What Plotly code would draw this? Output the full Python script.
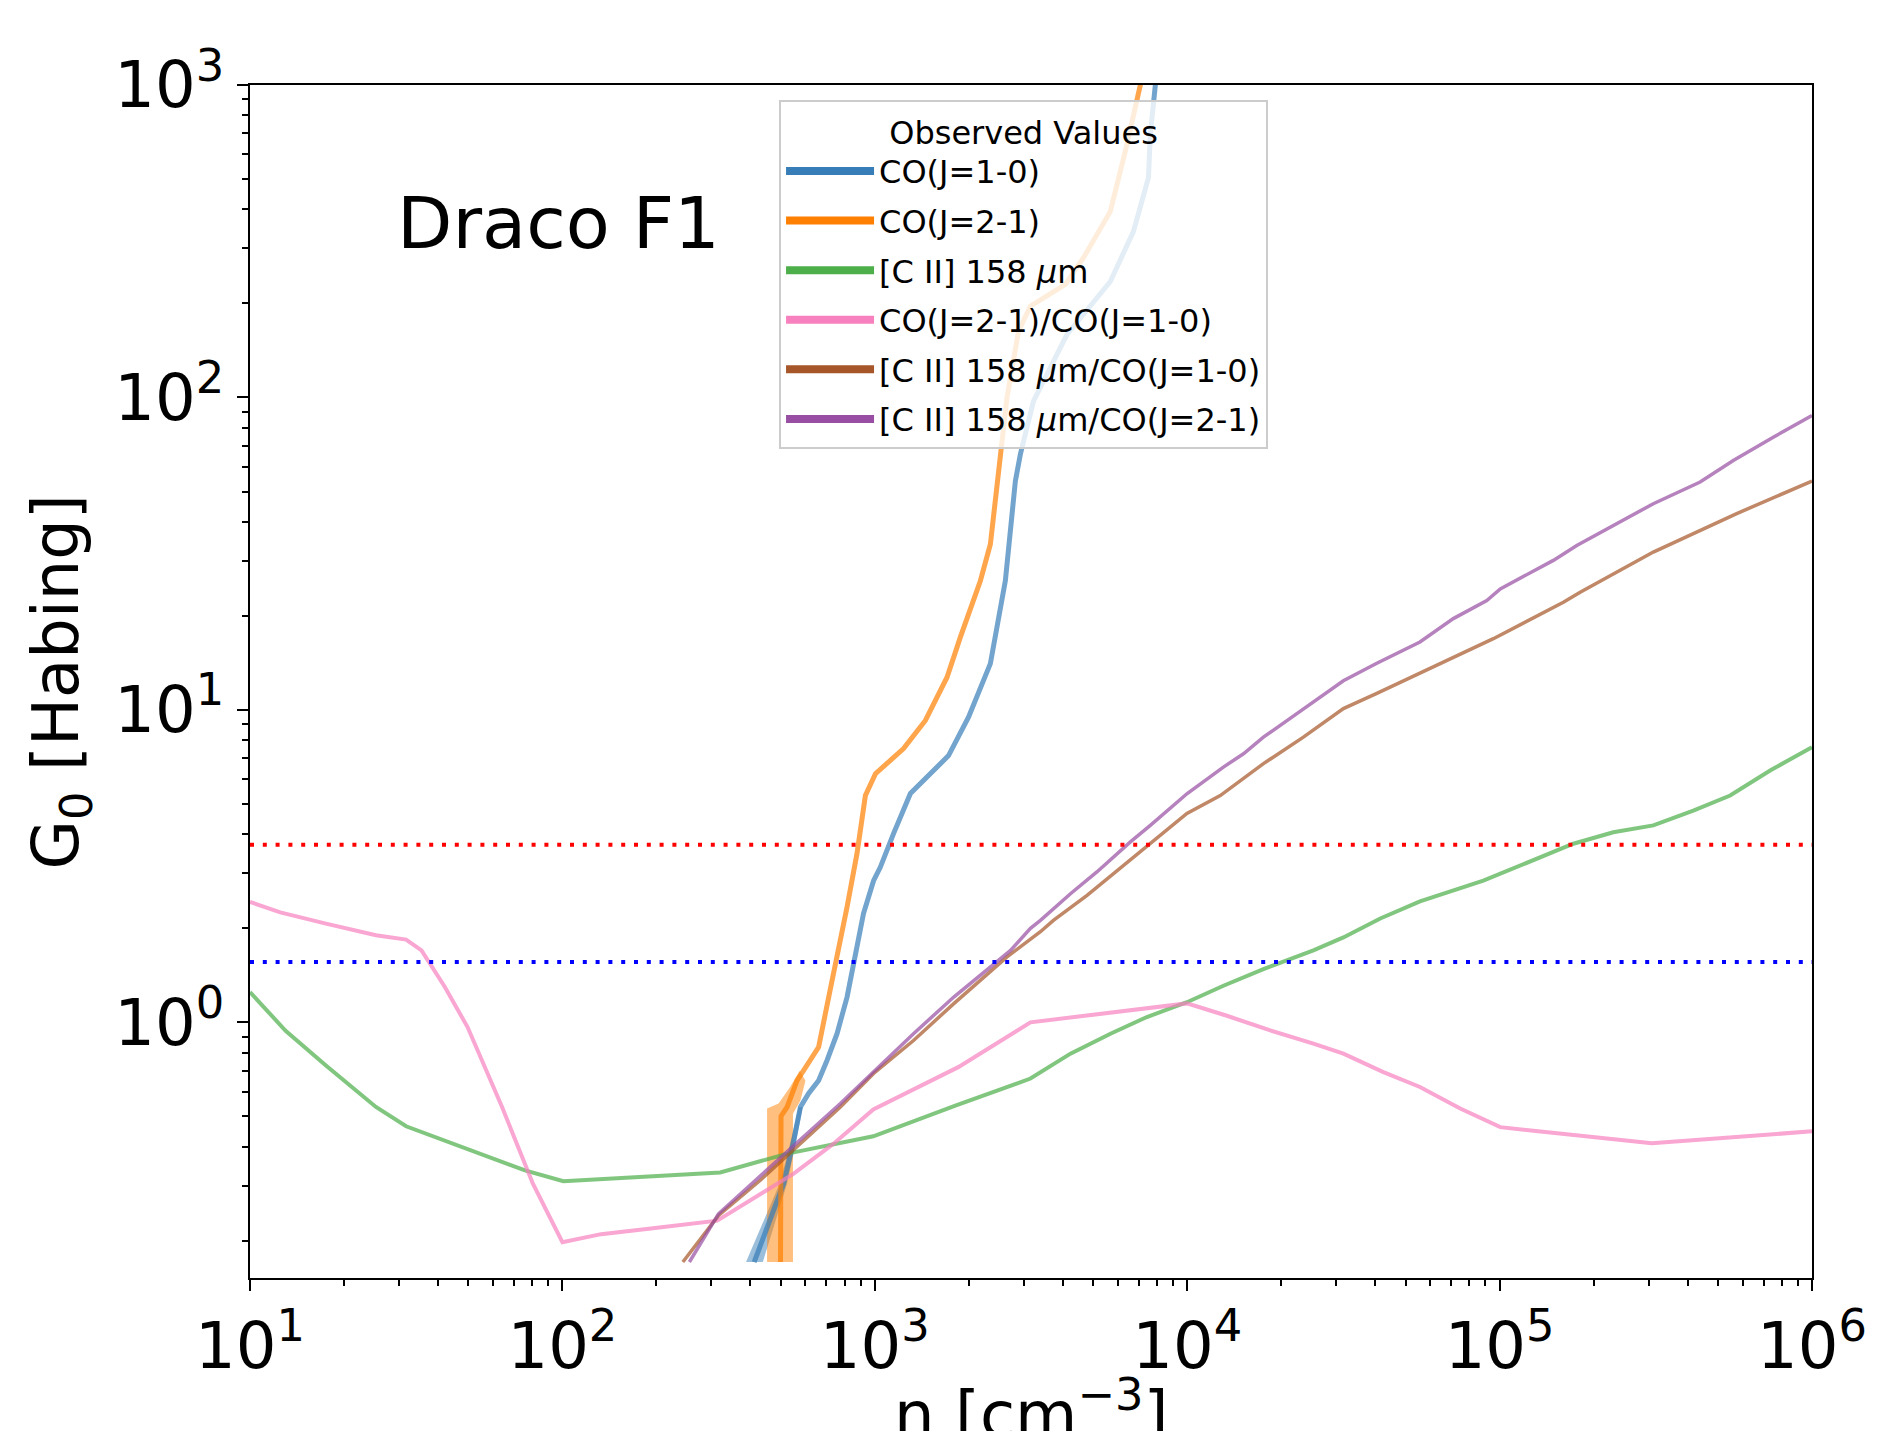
import plotly.graph_objects as go
import math

# ---------------- data ----------------
co10_n = [411, 463, 511, 550, 578, 614, 661, 703, 757, 815, 867, 920, 991, 1042, 1148, 1300,
          1722, 1995, 2344, 2489, 2618, 2818, 2924, 3221, 4121, 5675, 6730, 7516, 7621, 7907, 8128]
co10_g = [0.171, 0.232, 0.305, 0.419, 0.536, 0.592, 0.652, 0.755, 0.920, 1.205, 1.66, 2.23, 2.84,
          3.14, 4.02, 5.40, 7.14, 9.48, 14.06, 19.3, 25.9, 54.0, 65.8, 97.3, 159, 235, 340, 505,
          695, 1000, 1585]
co10_band_n = [387, 441, 496, 539, 570, 588, 561, 524, 481, 438]
co10_band_g = [0.171, 0.232, 0.305, 0.419, 0.536, 0.536, 0.419, 0.305, 0.232, 0.171]

co21_n = [499, 501, 524, 564, 592, 661, 719, 757, 815, 877, 933, 1005, 1148, 1236, 1452, 1702,
          1879, 2178, 2344, 2489, 2649, 2884, 3148, 4074, 4656, 5675, 6339, 7079, 7413]
co21_g = [0.171, 0.501, 0.536, 0.652, 0.702, 0.834, 1.265, 1.62, 2.34, 3.47, 5.32, 6.25, 7.06,
          7.52, 9.25, 12.7, 17.1, 25.9, 33.9, 59.6, 99.8, 163, 196, 230, 280, 394, 614, 1000, 1585]
co21_band_n = [452, 452, 492, 535, 575, 600, 578, 547, 547]
co21_band_g = [0.171, 0.530, 0.550, 0.620, 0.700, 0.650, 0.562, 0.510, 0.171]

cii_n = [10, 13.0, 17.5, 25.3, 31.6, 57.3, 75.9, 100.7, 320, 525, 989, 1820, 3150, 4230, 5680,
         7430, 9980, 13060, 17540, 25350, 31620, 41500, 55600, 88700, 172200, 231200, 310500,
         416900, 547000, 734500, 1000000]
cii_g = [1.25, 0.94, 0.728, 0.536, 0.465, 0.371, 0.336, 0.310, 0.331, 0.380, 0.432, 0.542, 0.661,
         0.794, 0.920, 1.04, 1.16, 1.31, 1.48, 1.70, 1.87, 2.15, 2.44, 2.84, 3.73, 4.06, 4.27,
         4.76, 5.32, 6.40, 7.6]

ratio_n = [10, 12.5, 17.5, 25.3, 31.6, 35.4, 42.0, 49.7, 64.1, 80.4, 100, 133, 192, 313, 550, 738,
           989, 1850, 3150, 5680, 9980, 13400, 18450, 25350, 31620, 42460, 55600, 74800, 100500,
           307000, 1000000]
ratio_g = [2.43, 2.25, 2.07, 1.90, 1.84, 1.70, 1.30, 0.966, 0.536, 0.305, 0.198, 0.210, 0.219,
           0.232, 0.328, 0.409, 0.526, 0.719, 1.00, 1.07, 1.15, 1.05, 0.942, 0.855, 0.794, 0.693,
           0.621, 0.530, 0.462, 0.410, 0.448]

cii_co10_n = [243, 316, 431, 776, 991, 1330, 1790, 2650, 3390, 3730, 4780, 5810, 7430, 9980, 12760,
              17540, 23550, 31620, 40460, 55600, 95500, 160000, 181100, 310500, 438500, 574100,
              1000000]
cii_co10_g = [0.171, 0.241, 0.313, 0.536, 0.686, 0.875, 1.148, 1.62, 1.95, 2.12, 2.55, 2.99, 3.64,
              4.66, 5.32, 6.73, 8.18, 10.1, 11.3, 13.1, 16.9, 22.1, 23.8, 32.0, 37.5, 42.5, 54.0]

cii_co21_n = [255, 316, 776, 1016, 1330, 1790, 2720, 3150, 3390, 4230, 5140, 6580, 7620, 10000,
              13060, 15140, 17540, 22440, 31620, 40460, 55600, 71100, 91000, 100500, 148600,
              176600, 243200, 310500, 438500, 559800, 751600, 1000000]
cii_co21_g = [0.171, 0.244, 0.55, 0.711, 0.92, 1.205, 1.70, 2.0, 2.12, 2.58, 3.03, 3.78, 4.27,
              5.40, 6.56, 7.24, 8.18, 9.73, 12.4, 14.1, 16.5, 19.6, 22.4, 24.4, 30.1, 33.6, 39.9,
              45.7, 53.6, 62.8, 74.6, 87.5]

g0_red = 3.70
g0_blue = 1.56
x_limits = [10, 1e6]
y_limits = [0.152, 1000]

legend_labels = ["CO(J=1-0)", "CO(J=2-1)", "[C II] 158 <i>μ</i>m", "CO(J=2-1)/CO(J=1-0)",
                 "[C II] 158 <i>μ</i>m/CO(J=1-0)", "[C II] 158 <i>μ</i>m/CO(J=2-1)"]
x_tick_vals = [10, 100, 1000, 1e4, 1e5, 1e6]
x_tick_text = ["10<sup>1</sup>", "10<sup>2</sup>", "10<sup>3</sup>", "10<sup>4</sup>",
               "10<sup>5</sup>", "10<sup>6</sup>"]
y_tick_vals = [1, 10, 100, 1000]
y_tick_text = ["10<sup>0</sup>", "10<sup>1</sup>", "10<sup>2</sup>", "10<sup>3</sup>"]

# ---------------- styling ----------------
colors = ["#377eb8", "#ff7f00", "#4daf4a", "#f781bf", "#a65628", "#984ea3"]
FONT = "DejaVu Sans"


def rgba(hex_c, a):
    h = hex_c.lstrip("#")
    return "rgba(%d,%d,%d,%.2f)" % (int(h[0:2], 16), int(h[2:4], 16), int(h[4:6], 16), a)


fig = go.Figure()

# uncertainty bands
for bn, bg, c in [(co10_band_n, co10_band_g, colors[0]), (co21_band_n, co21_band_g, colors[1])]:
    fig.add_trace(go.Scatter(x=bn, y=bg, mode="lines", fill="toself", fillcolor=rgba(c, 0.5),
                             line=dict(width=0, color=rgba(c, 0)), showlegend=False,
                             hoverinfo="skip"))

series = [(co10_n, co10_g, 5), (co21_n, co21_g, 5), (cii_n, cii_g, 4),
          (ratio_n, ratio_g, 4), (cii_co10_n, cii_co10_g, 3.5), (cii_co21_n, cii_co21_g, 3.5)]
for (xs, ys, w), c in zip(series, colors):
    fig.add_trace(go.Scatter(x=xs, y=ys, mode="lines", line=dict(color=c, width=w),
                             opacity=0.7, showlegend=False))

# threshold lines
for val, c in [(g0_red, "#ff0000"), (g0_blue, "#0000ff")]:
    fig.add_trace(go.Scatter(x=x_limits, y=[val, val], mode="lines",
                             line=dict(color=c, width=4, dash="4px,8.8px"), showlegend=False))

# legend entries
for i, (lab, c) in enumerate(zip(legend_labels, colors)):
    fig.add_trace(go.Scatter(x=[None], y=[None], mode="lines", line=dict(color=c, width=8),
                             name=lab, legendgroup=str(i)))

minor_x = [m * 10 ** k for k in range(1, 6) for m in range(2, 10)]
minor_y = [m * 10 ** k for k in range(-1, 3) for m in range(2, 10)]

axis_common = dict(type="log", showgrid=False, zeroline=False, showline=True, linecolor="black",
                   linewidth=2, mirror=True, ticks="outside", ticklen=11, tickwidth=2,
                   tickcolor="black", tickmode="array",
                   tickfont=dict(family=FONT, size=64, color="black"))

fig.update_xaxes(range=[math.log10(x_limits[0]), math.log10(x_limits[1])],
                 tickvals=x_tick_vals, ticktext=x_tick_text,
                 minor=dict(tickmode="array", tickvals=minor_x, ticks="outside", ticklen=6,
                            tickwidth=1.5, tickcolor="black", showgrid=False),
                 **axis_common)
fig.update_yaxes(range=[math.log10(y_limits[0]), math.log10(y_limits[1])],
                 tickvals=y_tick_vals, ticktext=y_tick_text,
                 minor=dict(tickmode="array", tickvals=minor_y, ticks="outside", ticklen=6,
                            tickwidth=1.5, tickcolor="black", showgrid=False),
                 **axis_common)

# the page body has an 8px margin, so the figure is 8px smaller and margins offset by 8px
fig.update_layout(
    width=1869, height=1423,
    margin=dict(l=242, r=65, t=77, b=153, autoexpand=False),
    paper_bgcolor="white", plot_bgcolor="white",
    font=dict(family=FONT, color="black"),
    legend=dict(x=0.3387, y=0.9874, xanchor="left", yanchor="top",
                bgcolor="rgba(255,255,255,0.8)", bordercolor="#cccccc", borderwidth=2,
                font=dict(family=FONT, size=32, color="black"),
                title=dict(text="Observed Values", side="top center",
                           font=dict(family=FONT, size=32, color="black")),
                itemwidth=88, tracegroupgap=5),
    annotations=[
        dict(text="Draco F1", x=0.093, y=0.884, xref="paper", yref="paper", xanchor="left",
             yanchor="middle", showarrow=False, font=dict(family=FONT, size=72, color="black")),
        dict(text="G<sub>0</sub> [Habing]", x=-0.121, y=0.5, xref="paper", yref="paper",
             xanchor="center", yanchor="middle", textangle=-90, showarrow=False,
             font=dict(family=FONT, size=64, color="black")),
        dict(text="n [cm<sup>−3</sup>]", x=0.5, y=-0.074, xref="paper", yref="paper",
             xanchor="center", yanchor="top", showarrow=False,
             font=dict(family=FONT, size=64, color="black")),
    ],
)

fig.write_html("out.html")
